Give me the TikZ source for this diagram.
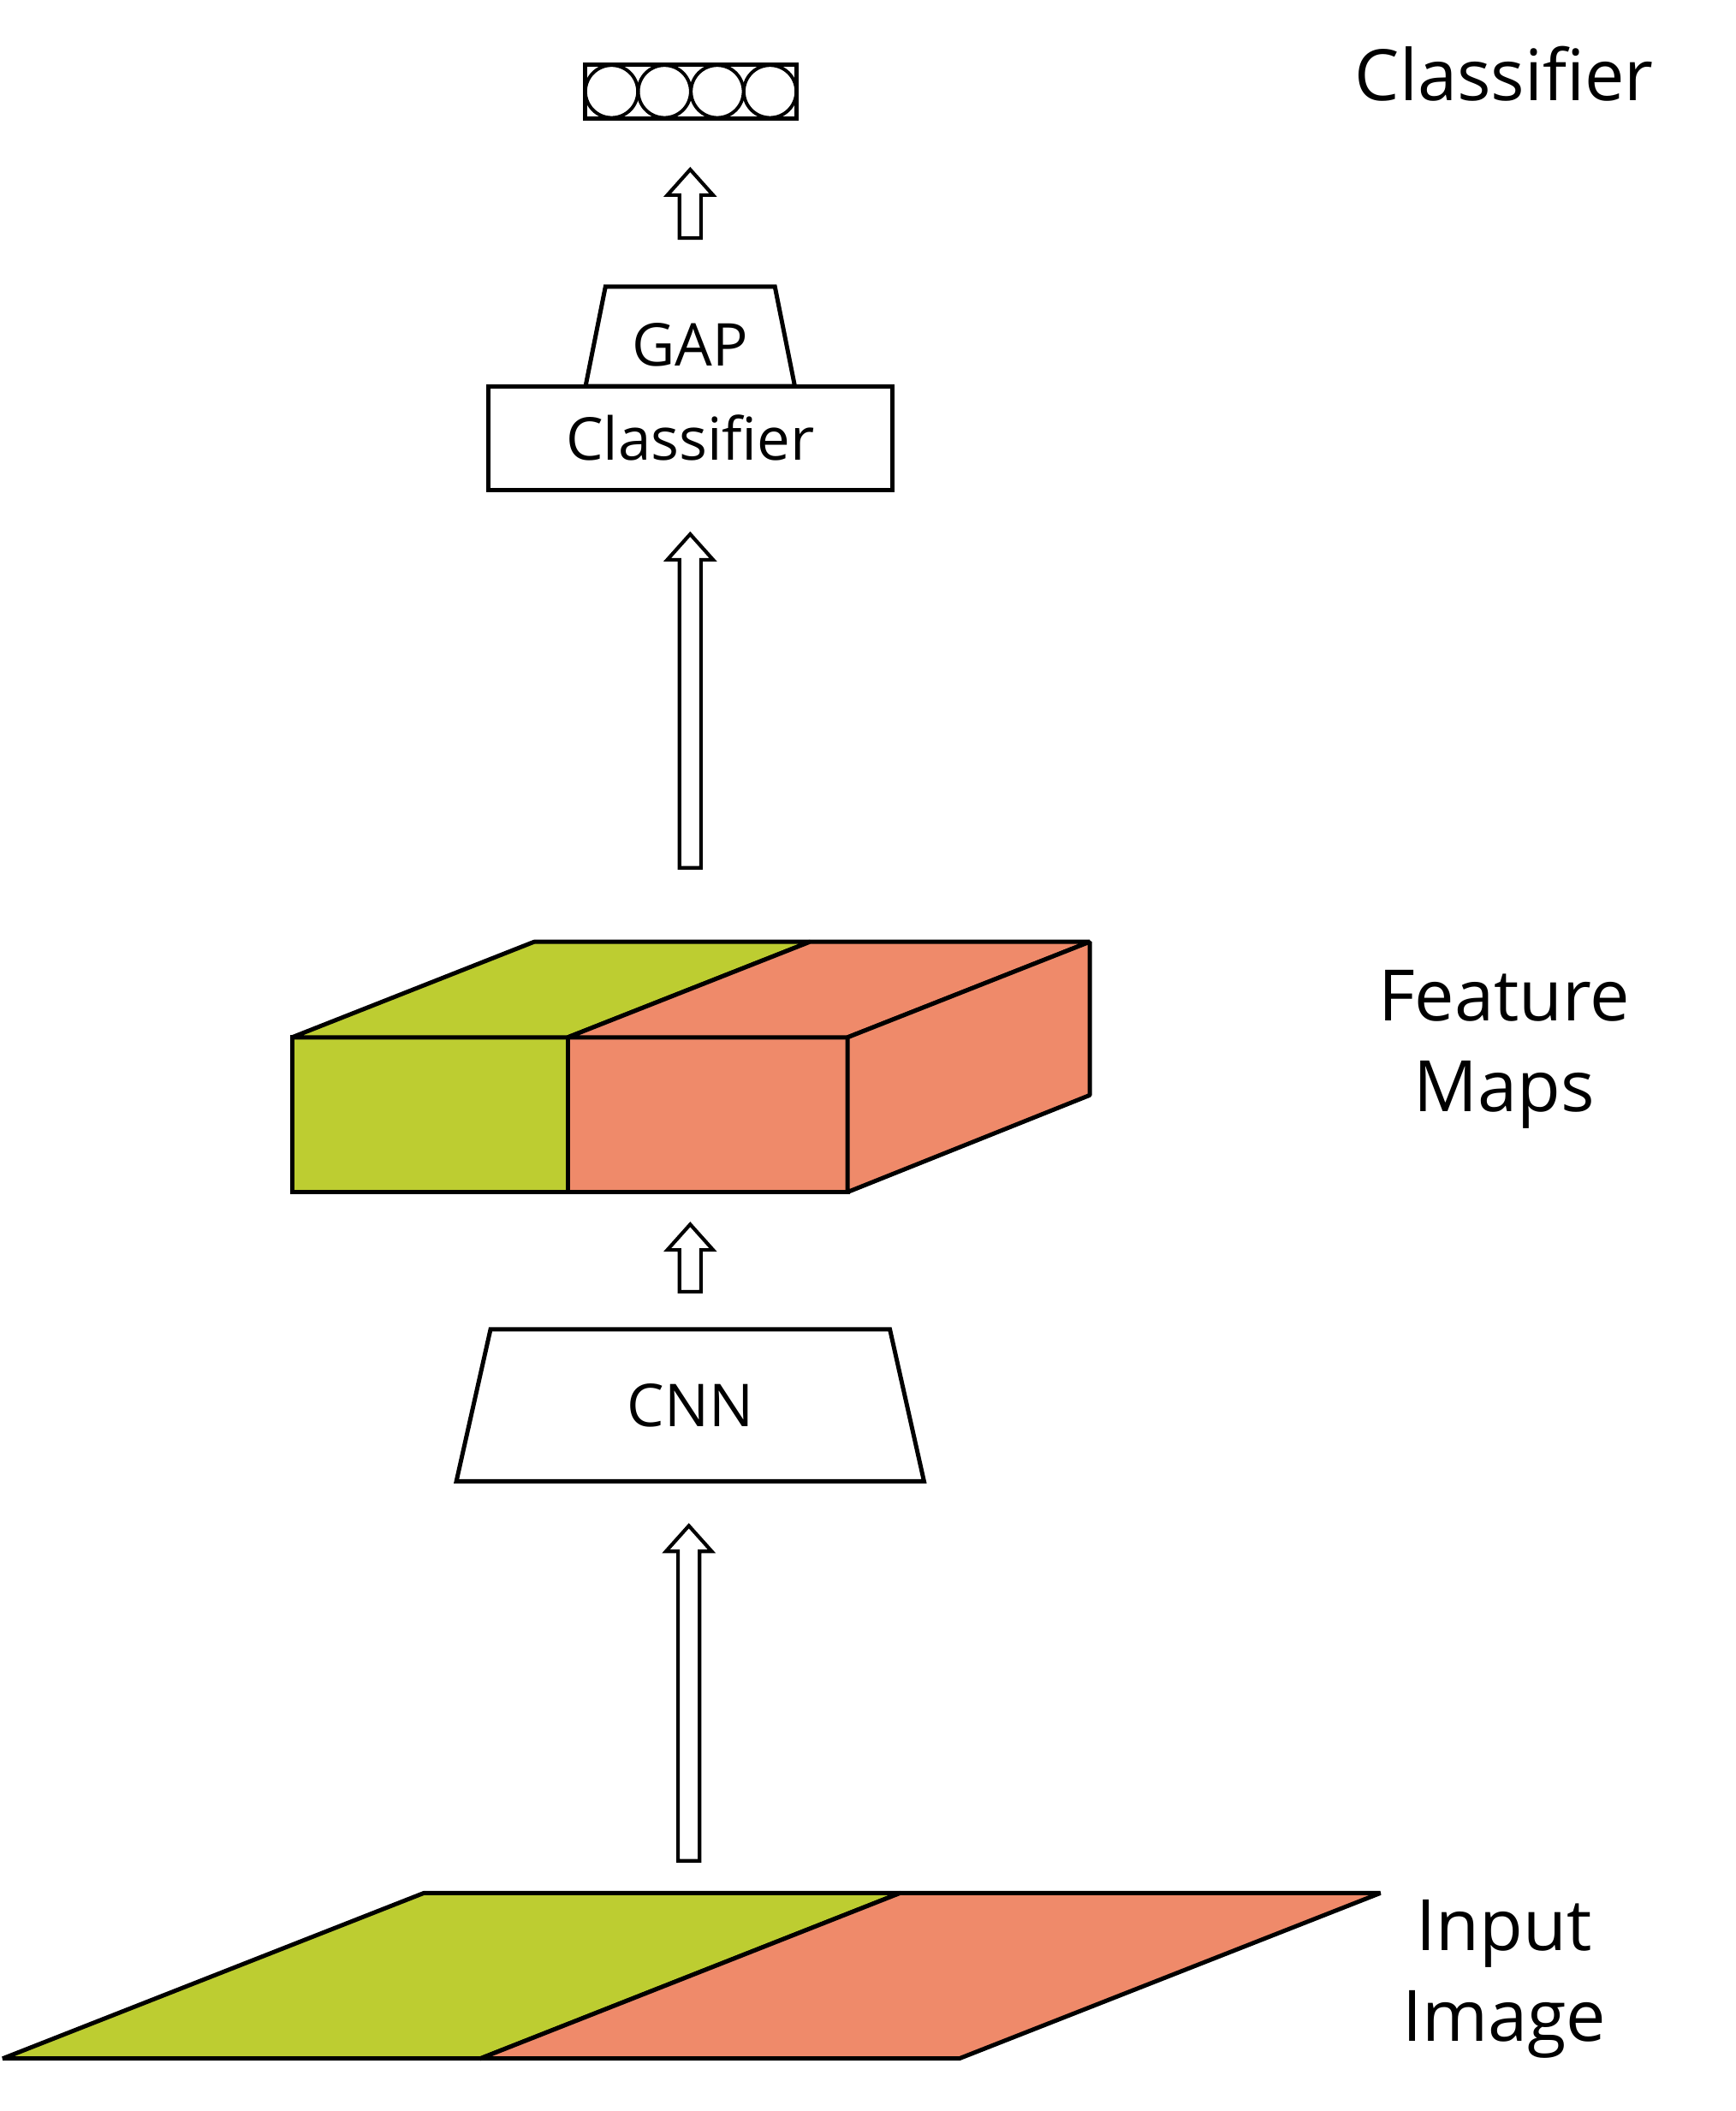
\documentclass[tikz,border=0pt]{standalone}
\usepackage{fontspec}
\setmainfont{Open Sans}
\usetikzlibrary{shapes.geometric,calc}

\definecolor{leaf}{RGB}{189,205,49}
\definecolor{salmon}{RGB}{239,138,106}
\newcommand\boxfont{\fontsize{12.5}{15}\selectfont}

\tikzset{
  box/.style={draw,line width=0.9pt,inner sep=0pt,outer sep=0pt,font=\boxfont},
  face/.style={draw,line width=0.9pt,line join=bevel},
  sidetext/.style={font=\fontsize{15}{19.3}\selectfont,align=center},
  hollow/.style={draw,line width=0.75pt,fill=white,to path={
    let \p1=(\tikztostart), \p2=(\tikztotarget) in
    (\x1-0.8mm,\y1) -- (\x1+0.8mm,\y1) -- (\x1+0.8mm,\y2-1.9mm) -- (\x1+1.7mm,\y2-1.9mm)
    -- (\x1,\y2) -- (\x1-1.7mm,\y2-1.9mm) -- (\x1-0.8mm,\y2-1.9mm) -- cycle}}
}

\begin{document}
\begin{tikzpicture}[x=0.1mm,y=-0.1mm]
    \useasboundingbox (0,0) rectangle (1290,1569);

    \node[box,minimum width=15.7mm,minimum height=4mm] (vec) at (513.5,68) {};
    \foreach \i in {0,1,2,3}
      \node[draw,circle,line width=0.7pt,minimum size=3.9mm,inner sep=0pt] (o\i) at (454.6+39.25*\i,68) {};

    \node[box,minimum width=30mm,minimum height=7.7mm] (cls) at (513,325.5) {Classifier};
    \node[box,trapezium,trapezium stretches=true,trapezium left angle=77,trapezium right angle=77,
      minimum width=15.6mm,minimum height=7.4mm,anchor=south,text height=12.5pt,text depth=0pt] (gap) at (cls.north) {GAP};

    \node[box,fill=leaf,minimum width=20.5mm,minimum height=11.5mm] (fmL) at (319.5,828.5) {};
    \node[box,fill=salmon,minimum width=20.8mm,minimum height=11.5mm,anchor=west] (fmR) at (fmL.east) {};
    \draw[face,fill=leaf] (fmL.north west) -- ++(180,-71) -- ++(205,0) -- (fmL.north east) -- cycle;
    \draw[face,fill=salmon] (fmR.north west) -- ++(180,-71) -- ++(208,0) -- (fmR.north east) -- cycle;
    \draw[face,fill=salmon] (fmR.north east) -- ++(180,-71) -- ++(0,114) -- (fmR.south east) -- cycle;

    \node[box,trapezium,trapezium stretches=true,trapezium left angle=76,trapezium right angle=76,
      minimum width=34.8mm,minimum height=11.3mm] (cnn) at (513,1044.5) {CNN};

    \coordinate (imgA) at (2,1530);
    \coordinate (imgB) at (357,1530);
    \coordinate (imgC) at (713,1530);
    \coordinate (imgD) at (1026,1407);
    \coordinate (imgE) at (669,1407);
    \coordinate (imgF) at (315,1407);
    \coordinate (img) at (512,1407);
    \draw[face,fill=leaf] (imgA) -- (imgB) -- (imgE) -- (imgF) -- cycle;
    \draw[face,fill=salmon] (imgB) -- (imgC) -- (imgD) -- (imgE) -- cycle;

    \draw[hollow] ([yshift=2.4mm]img) to ([yshift=-3.3mm]cnn.south);
    \draw[hollow] ([yshift=2.8mm]cnn.north) to ([yshift=-2.4mm]fmR.south);
    \draw[hollow] ($(fmR.north -| cls.south)+(0,-126)$) to ([yshift=-3.3mm]cls.south);
    \draw[hollow] ([yshift=3.6mm]gap.north) to ([yshift=-3.8mm]vec.south);

    \node[sidetext] (tcls) at (1118,55) {Classifier};
    \node[sidetext] (tfm) at (1118,780) {Feature\\Maps};
    \node[sidetext] (timg) at (1118,1471) {Input\\Image};
\end{tikzpicture}
\end{document}
